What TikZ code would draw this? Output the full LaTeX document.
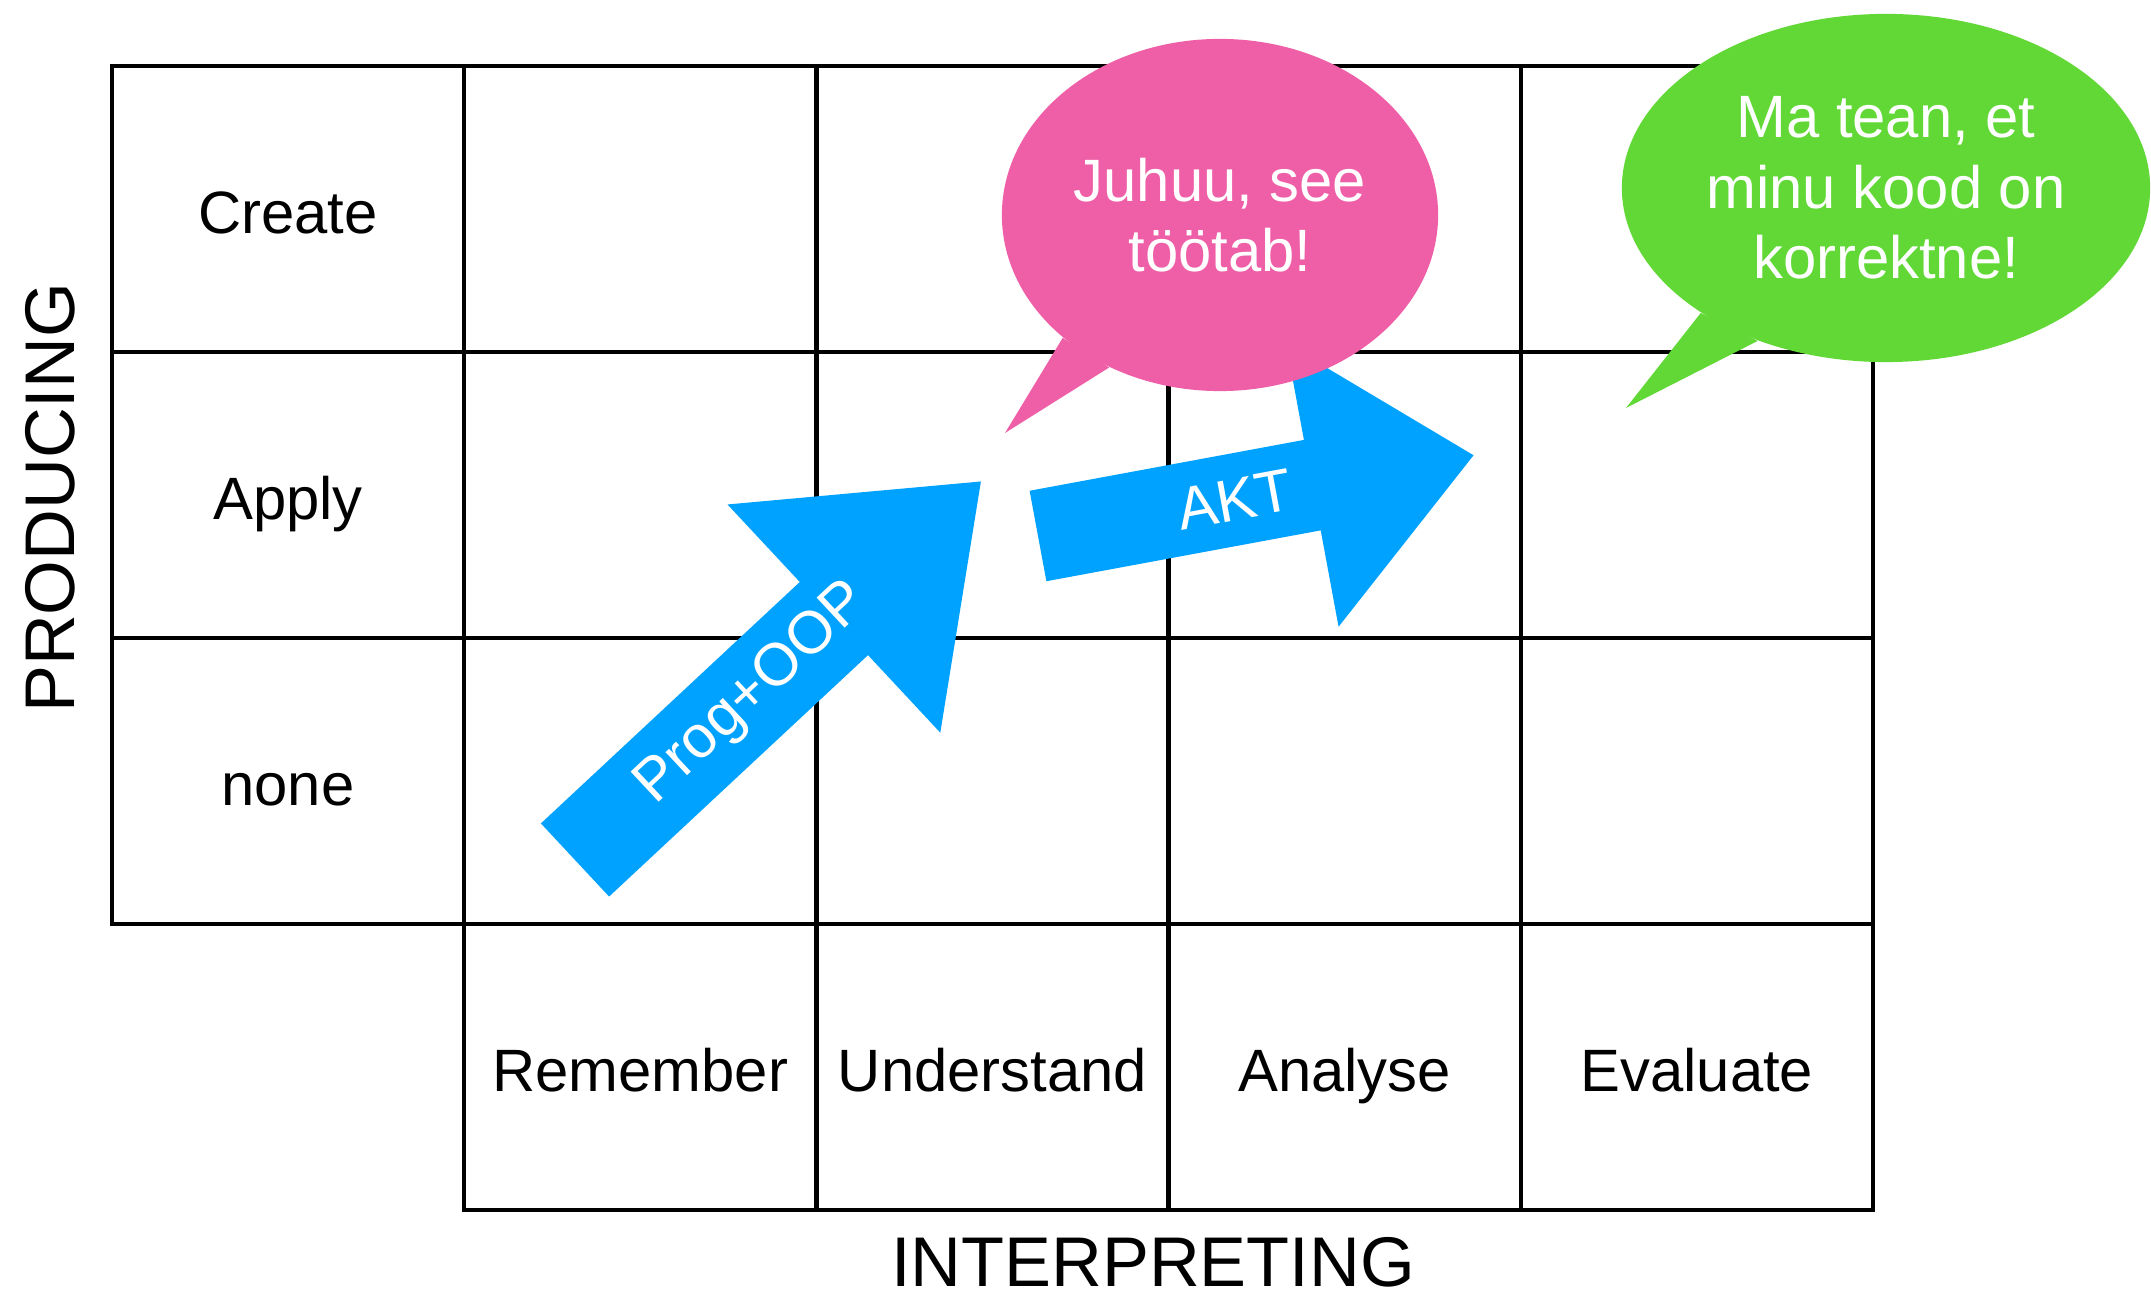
\documentclass[tikz,border=0pt]{standalone}
\usepackage{fontspec}
\setmainfont{Liberation Sans}
\usetikzlibrary{positioning,shapes.geometric}

\definecolor{bubblepink}{HTML}{EF5FA7}
\definecolor{bubblegreen}{HTML}{61D836}
\definecolor{arrowblue}{HTML}{00A2FF}

\begin{document}
\begin{tikzpicture}[
        x=0.01cm, y=-0.01cm,
        cell/.style={draw,line width=1.2pt,minimum width=3.522cm,minimum height=2.86cm,
            inner sep=0pt,text height=14pt,text depth=0pt,font=\fontsize{17}{20}\selectfont},
        axis/.style={inner sep=0pt,font=\fontsize{20}{24}\selectfont},
        bubble/.style={ellipse,inner sep=0pt,align=center,text=white,
            font=\fontsize{17}{20}\selectfont},
        arrowtext/.style={inner sep=0pt,text=white,font=\fontsize{17}{20}\selectfont}
    ]
    \useasboundingbox (0,0) rectangle (2151,1295);

    % producing levels, one row each
    \foreach \name [count=\r] in {Create,Apply,none} {
        \node[cell] (cell-\r-0) at (288,{209+286*(\r-1)}) {\name};
        \foreach \c in {1,...,4}
            \node[cell] (cell-\r-\c) at ({288+352.2*\c},{209+286*(\r-1)}) {};
    }
    % interpreting levels along the bottom
    \foreach \name [count=\c] in {Remember,Understand,Analyse,Evaluate}
        \node[cell] (cell-4-\c) at ({288+352.2*\c},1067) {\name};

    \node[axis,rotate=90] (producing) at (50,498) {PRODUCING};
    \node[axis] (interpreting) at (1153,1262) {INTERPRETING};

    % block arrows
    \begin{scope}[shift={(575,860)},rotate=43]
        \fill[arrowblue] (0,-50) -- (354,-50) -- (354,-156) -- (555,0)
            -- (354,156) -- (354,50) -- (0,50) -- cycle;
        \node[arrowtext,rotate=43] (prog) at (243,0) {Prog+OOP};
    \end{scope}
    \begin{scope}[shift={(1038,536)},rotate=10.5]
        \fill[arrowblue] (0,-46) -- (279,-46) -- (279,-144) -- (443,0)
            -- (279,144) -- (279,46) -- (0,46) -- cycle;
        \node[arrowtext,rotate=10.5] (akt) at (200,0) {AKT};
    \end{scope}

    % speech bubbles
    \node[bubble,fill=bubblepink,minimum width=4.36cm,minimum height=3.52cm]
        (juhuu) at (1220,215) {Juhuu, see\\töötab!};
    \coordinate (juhuu tip) at (1005,433);
    \fill[bubblepink] (juhuu.218) -- (juhuu tip) -- (juhuu.234) -- cycle;

    \node[bubble,fill=bubblegreen,minimum width=5.28cm,minimum height=3.48cm]
        (tean) at (1886,188) {Ma tean, et\\minu kood on\\korrektne!};
    \coordinate (tean tip) at (1626,408);
    \fill[bubblegreen] (tean.214) -- (tean tip) -- (tean.230) -- cycle;
\end{tikzpicture}
\end{document}
